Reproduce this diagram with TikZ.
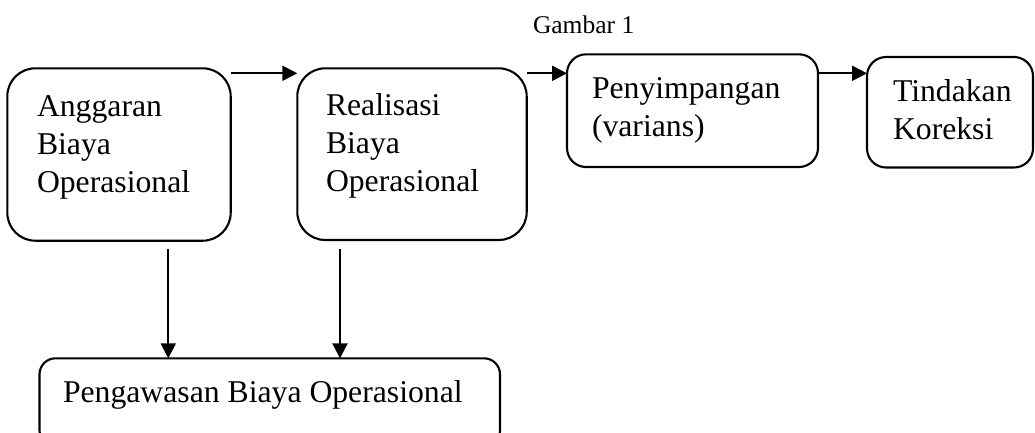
\documentclass[tikz,border=0pt]{standalone}
\usepackage{fontspec}
\setmainfont{Liberation Serif}
\usetikzlibrary{arrows.meta}
\begin{document}
\begin{tikzpicture}[x=1pt,y=-1pt,
  box/.style={draw, line width=2.1pt, rectangle, outer sep=0pt, inner sep=0pt, anchor=north west},
  txt/.style={anchor=base west, inner sep=0pt, outer sep=0pt, font=\fontsize{31.7}{38}\selectfont},
  captxt/.style={anchor=base west, inner sep=0pt, outer sep=0pt, font=\fontsize{25.5}{30}\selectfont},
  arr/.style={line width=2.1pt, -{Triangle[length=15pt,width=15pt]}}]
\useasboundingbox (0,0) rectangle (1035,432);
% boxes
\node[box, rounded corners=28pt, minimum width=223.4pt, minimum height=172.4pt] (b1) at (7.3,68.3) {};
\node[box, rounded corners=28pt, minimum width=229.4pt, minimum height=171.7pt] (b2) at (297.3,68.3) {};
\node[box, rounded corners=19pt, minimum width=251pt, minimum height=112.7pt] (b3) at (567,54.3) {};
\node[box, rounded corners=19pt, minimum width=166pt, minimum height=110.5pt] (b4) at (867,57) {};
\node[box, rounded corners=16pt, minimum width=460.5pt, minimum height=88pt] (b5) at (39.5,358.3) {};
% texts
\node[captxt] (g) at (533,33) {Gambar 1};
\node[txt] (t1) at (37,116) {\begin{tabular}[t]{@{}l@{}}Anggaran\\Biaya\\Operasional\end{tabular}};
\node[txt] (t2) at (326,115) {\begin{tabular}[t]{@{}l@{}}Realisasi\\Biaya\\Operasional\end{tabular}};
\node[txt] (t3) at (592,98.3) {\begin{tabular}[t]{@{}l@{}}Penyimpangan\\(varians)\end{tabular}};
\node[txt] (t4) at (893,101) {\begin{tabular}[t]{@{}l@{}}Tindakan\\Koreksi\end{tabular}};
\node[txt] (t5) at (63,402) {Pengawasan Biaya Operasional};
% connectors
\coordinate (y1) at (0,73.3);
\draw[arr] (b1.east |- y1) -- (b2.west |- y1);
\draw[arr] (b2.east |- y1) -- (b3.west |- y1);
\draw[arr] (b3.east |- y1) -- (b4.west |- y1);
\coordinate (s1) at (168.3,249);
\coordinate (s2) at (340,249);
\draw[arr] (s1) -- (s1 |- b5.north);
\draw[arr] (s2) -- (s2 |- b5.north);
\end{tikzpicture}
\end{document}
